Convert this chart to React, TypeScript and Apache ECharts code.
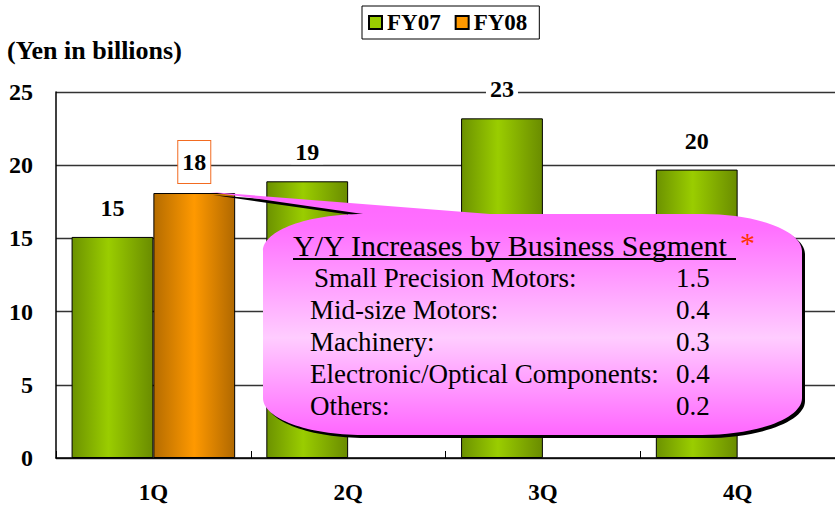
import React, { useEffect, useRef } from "react";
import * as echarts from "echarts";

const categories = ["1Q", "2Q", "3Q", "4Q"];
const fy07Values = [15.1, 18.9, 23.2, 19.7];
const fy08Values: (number | null)[] = [18.1, null, null, null];
const yMin = 0;
const yMax = 25;
const yInterval = 5;
const segmentNames = [
  "Small Precision Motors:",
  "Mid-size Motors:",
  "Machinery:",
  "Electronic/Optical Components:",
  "Others:",
];
const segmentValues = ["1.5", "0.4", "0.3", "0.4", "0.2"];
const calloutTitle = "Y/Y Increases by Business Segment";

const SERIF = "'Liberation Serif', 'Times New Roman', serif";

// callout outline (pixel coordinates in the 835x506 chart)
const L = 263, R = 802, T = 214, B = 435, RX = 100, RY = 37, K = 0.5523;
const calloutPath =
  `M ${L} ${T + RY} ` +
  `C ${L} ${T + RY - K * RY} ${L + RX - K * RX} ${T} ${L + RX} ${T} ` +
  `L 210 192 L 490 ${T} L ${R - RX} ${T} ` +
  `C ${R - RX + K * RX} ${T} ${R} ${T + RY - K * RY} ${R} ${T + RY} ` +
  `L ${R} ${B - RY} ` +
  `C ${R} ${B - RY + K * RY} ${R - RX + K * RX} ${B} ${R - RX} ${B} ` +
  `L ${L + RX} ${B} ` +
  `C ${L + RX - K * RX} ${B} ${L} ${B - RY + K * RY} ${L} ${B - RY} Z`;

let registered = false;

export default function App() {
  const ref = useRef<HTMLDivElement>(null);
  useEffect(() => {
    if (!registered) {
      echarts.graphic.registerShape("callout", echarts.graphic.extendPath(calloutPath, {}));
      registered = true;
    }
    const chart = echarts.init(ref.current!, null, { renderer: "svg" });

    const greenGrad = new echarts.graphic.LinearGradient(0, 0, 1, 0, [
      { offset: 0, color: "#6c9200" },
      { offset: 0.45, color: "#9acd00" },
      { offset: 1, color: "#6a8c00" },
    ]);
    const orangeGrad = new echarts.graphic.LinearGradient(0, 0, 1, 0, [
      { offset: 0, color: "#b56c00" },
      { offset: 0.5, color: "#ff9900" },
      { offset: 1, color: "#b06800" },
    ]);
    const pinkGrad = new echarts.graphic.LinearGradient(0, 0, 0, 1, [
      { offset: 0, color: "#ff66ff" },
      { offset: 0.15, color: "#ff70ff" },
      { offset: 0.6, color: "#ffccff" },
      { offset: 1, color: "#ff66ff" },
    ]);

    const labelBase = {
      show: true,
      position: "top" as const,
      distance: 17,
      fontSize: 24,
      fontWeight: "bold" as const,
      fontFamily: SERIF,
      color: "#000",
      backgroundColor: "#fff",
      padding: [0, 4],
      formatter: (p: any) => String(Math.round(p.value)),
    };

    const fy07Data = fy07Values.map((v) => ({ value: v }));
    const fy08Data = fy08Values.map((v) =>
      v == null
        ? "-"
        : {
            value: v,
            label: {
              borderColor: "#f26b21",
              borderWidth: 1,
              backgroundColor: "#fff",
              padding: [9, 4],
              distance: 10,
            },
          }
    );

    const textEls: any[] = [];
    textEls.push({
      type: "text",
      x: 293,
      y: 245,
      z: 102,
      style: { text: calloutTitle, font: `30px ${SERIF}`, fill: "#000", verticalAlign: "middle" },
    });
    textEls.push({
      type: "line",
      z: 102,
      shape: { x1: 293, y1: 259, x2: 736, y2: 259 },
      style: { stroke: "#000", lineWidth: 2 },
    });
    textEls.push({
      type: "text",
      x: 740,
      y: 242,
      z: 102,
      style: { text: "*", font: `30px ${SERIF}`, fill: "#ff3300", verticalAlign: "middle" },
    });
    segmentNames.forEach((name, i) => {
      const y = 278 + i * 32;
      textEls.push({
        type: "text",
        x: i === 0 ? 314 : 310,
        y,
        z: 102,
        style: { text: name, font: `27px ${SERIF}`, fill: "#000", verticalAlign: "middle" },
      });
      textEls.push({
        type: "text",
        x: 676,
        y,
        z: 102,
        style: { text: segmentValues[i], font: `27px ${SERIF}`, fill: "#000", verticalAlign: "middle" },
      });
    });

    chart.setOption({
      animation: false,
      backgroundColor: "#fff",
      title: {
        text: "(Yen in billions)",
        left: 7,
        top: 37,
        padding: 0,
        textStyle: { fontSize: 26, fontWeight: "bold", fontFamily: SERIF, color: "#000" },
      },
      legend: {
        data: [
          { name: "FY07", itemStyle: { color: "#99cc00" } },
          { name: "FY08", itemStyle: { color: "#ff9900" } },
        ],
        icon: "rect",
        itemWidth: 13,
        itemHeight: 13,
        itemGap: 14,
        left: 362,
        top: 6,
        padding: [5, 12, 5, 6],
        borderColor: "#000",
        borderWidth: 1,
        textStyle: { fontSize: 23, fontWeight: "bold", fontFamily: SERIF, color: "#000" },
      },
      grid: { left: 56, right: -6, top: 92, bottom: 48, containLabel: false },
      xAxis: {
        type: "category",
        data: categories,
        axisLine: { show: true, lineStyle: { color: "#000", width: 1.5 } },
        axisTick: { show: true, inside: true, length: 7, lineStyle: { color: "#000" } },
        axisLabel: { fontSize: 23, fontWeight: "bold", fontFamily: SERIF, color: "#000", margin: 23 },
      },
      yAxis: {
        type: "value",
        min: yMin,
        max: yMax,
        interval: yInterval,
        axisLine: { show: true, lineStyle: { color: "#000", width: 1.5 } },
        axisTick: { show: false },
        axisLabel: { fontSize: 24, fontWeight: "bold", fontFamily: SERIF, color: "#000", margin: 23 },
        splitLine: { show: true, lineStyle: { color: "#333", width: 1.3 } },
      },
      series: [
        {
          name: "FY07",
          type: "bar",
          data: fy07Data,
          barGap: "0%",
          barCategoryGap: "16%",
          itemStyle: { color: greenGrad, borderColor: "#000", borderWidth: 1 },
          label: labelBase,
        },
        {
          name: "FY08",
          type: "bar",
          data: fy08Data,
          barGap: "0%",
          barCategoryGap: "16%",
          itemStyle: { color: orangeGrad, borderColor: "#000", borderWidth: 1 },
          label: labelBase,
        },
      ],
      graphic: [
        { type: "callout", x: 3, y: 3, z: 100, style: { fill: "#000" } },
        { type: "callout", x: 0, y: 0, z: 101, style: { fill: pinkGrad } },
        ...textEls,
      ],
    });
    return () => chart.dispose();
  }, []);
  return (
    <div
      ref={ref}
      style={{ position: "fixed", left: 0, top: 0, width: 835, height: 506 }}
    />
  );
}
